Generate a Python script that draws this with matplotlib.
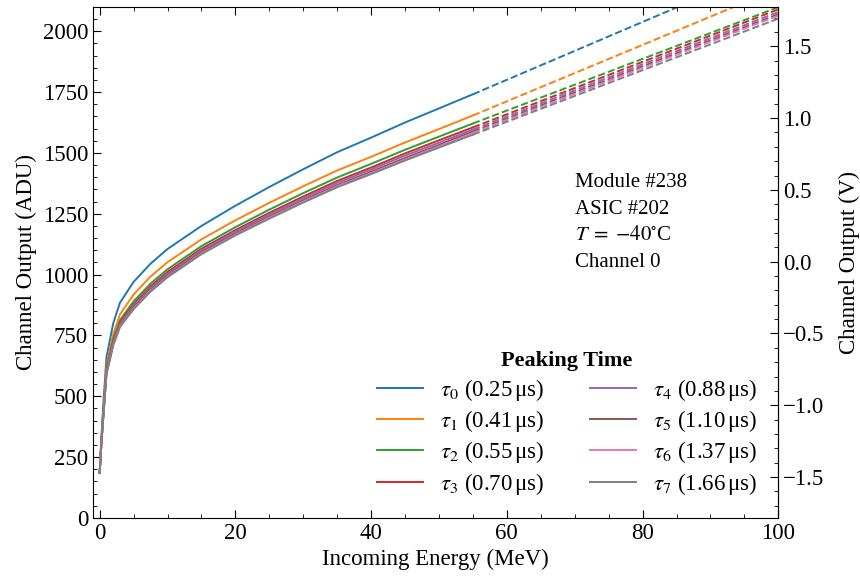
import numpy as np
import matplotlib
matplotlib.use("Agg")
import matplotlib.pyplot as plt
from matplotlib.ticker import MultipleLocator, FixedLocator

plt.rcParams['font.family'] = 'serif'
plt.rcParams['font.serif'] = ['Liberation Serif', 'DejaVu Serif']
plt.rcParams['mathtext.fontset'] = 'stix'
plt.rcParams['font.size'] = 16.5

# energies (MeV) for measured part
energy = [0, 0.25, 0.5, 1, 2, 3, 5, 7.5, 10, 15, 20, 25, 30, 35, 40, 45, 50, 55]
# extrapolated part
energy_ext = [55, 100]

peaking_times = ['0.25', '0.41', '0.55', '0.70', '0.88', '1.10', '1.37', '1.66']

tau0 = [185, 330, 450, 660, 800, 885, 970, 1045, 1105, 1200, 1283, 1360, 1433, 1503, 1563, 1625, 1683, 1741]
tau1 = [185, 315, 425, 625, 755, 837, 918, 992, 1051, 1145, 1223, 1295, 1363, 1428, 1484, 1543, 1598, 1654]
tau2 = [185, 310, 415, 610, 735, 813, 890, 963, 1022, 1117, 1195, 1267, 1335, 1399, 1455, 1513, 1567, 1621]
tau3 = [185, 307, 410, 603, 726, 803, 879, 952, 1011, 1106, 1183, 1254, 1321, 1385, 1440, 1498, 1552, 1605]
tau4 = [185, 305, 406, 599, 721, 797, 873, 945, 1004, 1099, 1177, 1247, 1313, 1377, 1432, 1489, 1542, 1596]
tau5 = [185, 304, 403, 595, 716, 792, 866, 938, 997, 1092, 1169, 1239, 1305, 1368, 1423, 1479, 1533, 1588]
tau6 = [185, 303, 401, 592, 713, 788, 861, 933, 992, 1087, 1164, 1234, 1300, 1363, 1417, 1473, 1527, 1582]
tau7 = [185, 302, 400, 590, 710, 785, 858, 930, 989, 1084, 1161, 1230, 1296, 1359, 1413, 1469, 1522, 1575]

# extrapolated value at 100 MeV
ext100 = [2276, 2176, 2099, 2090, 2079, 2070, 2064, 2052]

series = [tau0, tau1, tau2, tau3, tau4, tau5, tau6, tau7]

# ADU -> V conversion
adu_offset = 1053.0
adu_per_volt = 590.0

def adu2v(a):
    return (a - adu_offset) / adu_per_volt

def v2adu(v):
    return v * adu_per_volt + adu_offset

fig, ax = plt.subplots(figsize=(8.6, 5.78), dpi=100)
colors = plt.rcParams['axes.prop_cycle'].by_key()['color']

for i, ys in enumerate(series):
    c = colors[i]
    ax.plot(energy, ys, color=c, lw=1.4,
            label=r'$\tau_{%d}$ (%s$\,$μs)' % (i, peaking_times[i]))
    ax.plot(energy_ext, [ys[-1], ext100[i]], color=c, lw=1.4, ls='--')

ax.set_xlim(-1, 100)
ax.set_ylim(0, 2100)
ax.set_xlabel('Incoming Energy (MeV)')
ax.set_ylabel('Channel Output (ADU)')
ax.xaxis.set_major_locator(MultipleLocator(20))
ax.xaxis.set_minor_locator(MultipleLocator(5))
ax.yaxis.set_major_locator(MultipleLocator(250))
ax.yaxis.set_minor_locator(MultipleLocator(50))
ax.tick_params(which='both', direction='in', top=True, right=False)
ax.tick_params(which='major', length=6)
ax.tick_params(which='minor', length=3)

sec = ax.secondary_yaxis('right', functions=(adu2v, v2adu))
sec.set_ylabel('Channel Output (V)', labelpad=10)
sec.yaxis.set_major_locator(FixedLocator(np.arange(-1.5, 1.51, 0.5)))
sec.yaxis.set_minor_locator(FixedLocator(np.arange(-1.7, 1.75, 0.1)))
sec.tick_params(which='both', direction='in')
sec.tick_params(which='major', length=6)
sec.tick_params(which='minor', length=3)

ax.text(0.704, 0.675, 'Module #238\nASIC #202\n$T\\;=\\;{-}40^{\\circ}$C\nChannel 0',
        transform=ax.transAxes, ha='left', va='top', linespacing=1.55, fontsize=15)

leg = ax.legend(loc='lower right', ncol=2, frameon=False, title='Peaking Time',
                title_fontproperties={'weight': 'bold', 'size': 16},
                handlelength=2.0, handletextpad=0.75, columnspacing=2.0,
                labelspacing=0.235, borderaxespad=0.52)

fig.subplots_adjust(left=0.108, right=0.905, top=0.988, bottom=0.104)
fig.savefig('out.png', dpi=100)
